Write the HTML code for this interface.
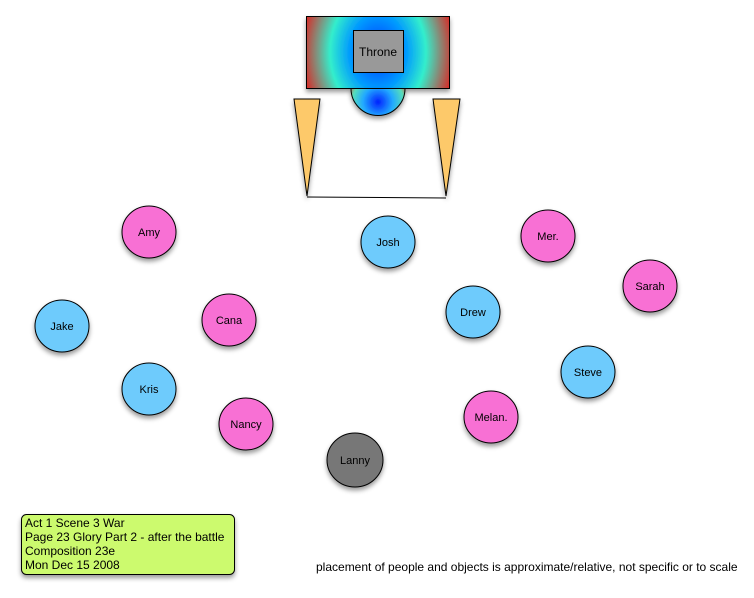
<!DOCTYPE html>
<html><head><style>body{margin:0;background:#fff;}svg{display:block}</style></head><body>
<svg width="754" height="598" viewBox="0 0 754 598" xmlns="http://www.w3.org/2000/svg" font-family="Liberation Sans, sans-serif">
<defs>
<radialGradient id="g1" cx="378" cy="52" r="80" gradientUnits="userSpaceOnUse" gradientTransform="translate(378 52) scale(1 1.3) translate(-378 -52)">
<stop offset="0" stop-color="#0033ff"/><stop offset="0.35" stop-color="#0099ff"/><stop offset="0.6" stop-color="#33eecc"/><stop offset="1" stop-color="#ee1111"/></radialGradient>
<radialGradient id="g2" cx="378" cy="102" r="30" gradientUnits="userSpaceOnUse">
<stop offset="0" stop-color="#0022ff"/><stop offset="0.5" stop-color="#22aaff"/><stop offset="0.85" stop-color="#55ddbb"/><stop offset="1" stop-color="#aa8866"/></radialGradient>
<filter id="sh" x="-30%" y="-30%" width="160%" height="170%"><feDropShadow dx="0" dy="3" stdDeviation="2.5" flood-opacity="0.4"/></filter>
</defs>
<g stroke="#000" stroke-width="1">
<rect x="306.5" y="16.5" width="143" height="72" fill="url(#g1)" filter="url(#sh)"/>
<rect x="353.5" y="30.5" width="50" height="42" fill="#999"/>
<path d="M351 88.5 A27 27 0 0 0 405 88.5 Z" fill="url(#g2)" filter="url(#sh)"/>
<polygon points="294,99 320,99 307,196" fill="#fdc96a" filter="url(#sh)"/>
<polygon points="433,99 460,99 446,196" fill="#fdc96a" filter="url(#sh)"/>
<line x1="307" y1="197" x2="446" y2="198"/>
</g>
<text x="378" y="56" font-size="12" text-anchor="middle">Throne</text>
<g stroke="#000" stroke-width="1" filter="url(#sh)">
<ellipse cx="149" cy="232" rx="27" ry="26" fill="#f86fd4"/>
<ellipse cx="388" cy="242" rx="27" ry="26" fill="#6ecbfc"/>
<ellipse cx="548" cy="236" rx="27" ry="26" fill="#f86fd4"/>
<ellipse cx="650" cy="286" rx="27" ry="26" fill="#f86fd4"/>
<ellipse cx="62" cy="326" rx="27" ry="26" fill="#6ecbfc"/>
<ellipse cx="229" cy="320" rx="27" ry="26" fill="#f86fd4"/>
<ellipse cx="473" cy="312" rx="27" ry="26" fill="#6ecbfc"/>
<ellipse cx="588" cy="372" rx="27" ry="26" fill="#6ecbfc"/>
<ellipse cx="149" cy="389" rx="27" ry="26" fill="#6ecbfc"/>
<ellipse cx="246" cy="424" rx="27" ry="26" fill="#f86fd4"/>
<ellipse cx="491" cy="417" rx="27" ry="26" fill="#f86fd4"/>
<ellipse cx="355" cy="460" rx="28" ry="27" fill="#777"/>
</g>
<g font-size="11" text-anchor="middle">
<text x="149" y="236">Amy</text>
<text x="388" y="246">Josh</text>
<text x="548" y="240">Mer.</text>
<text x="650" y="290">Sarah</text>
<text x="62" y="330">Jake</text>
<text x="229" y="324">Cana</text>
<text x="473" y="316">Drew</text>
<text x="588" y="376">Steve</text>
<text x="149" y="393">Kris</text>
<text x="246" y="428">Nancy</text>
<text x="491" y="421">Melan.</text>
<text x="355" y="464">Lanny</text>
</g>
<rect x="21.5" y="514.5" width="213" height="60" rx="5" fill="#ccfa6e" stroke="#000" filter="url(#sh)"/>
<g font-size="12">
<text x="25" y="527">Act 1 Scene 3 War</text>
<text x="25" y="541">Page 23 Glory Part 2 - after the battle</text>
<text x="25" y="555">Composition 23e</text>
<text x="25" y="569">Mon Dec 15 2008</text>
</g>
<text x="316" y="571" font-size="12">placement of people and objects is approximate/relative, not specific or to scale</text>
</svg>
</body></html>
